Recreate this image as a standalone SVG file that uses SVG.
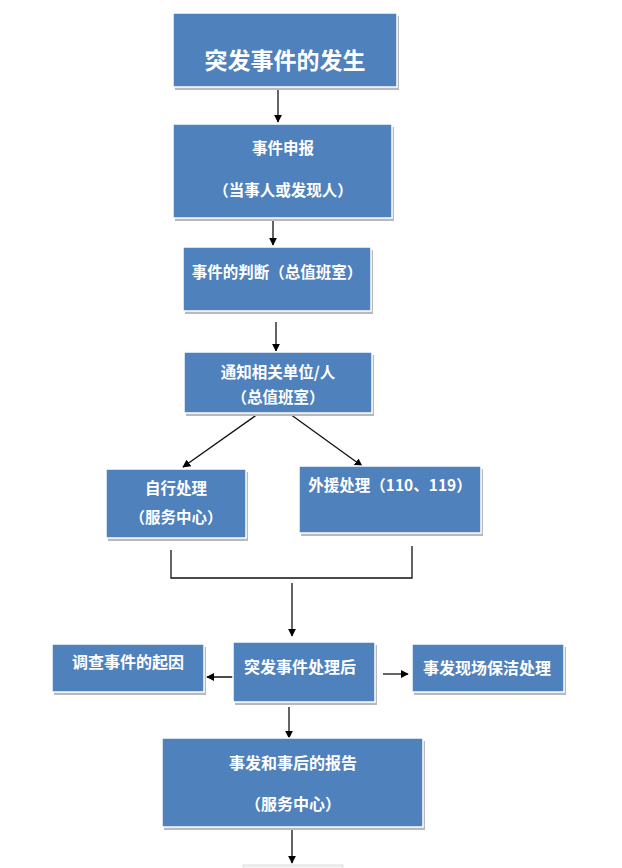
<svg xmlns="http://www.w3.org/2000/svg" width="622" height="868" viewBox="0 0 622 868">
<defs>
<style>
.sh{fill:#b9b9b9}
.bx{fill:#4F81BD;stroke:#ffffff;stroke-width:1.5}
.t{font-family:"Noto Sans CJK SC","Noto Sans",sans-serif;font-weight:bold;fill:#ffffff;text-anchor:middle;font-size:15.5px}
.ln{stroke:#111;stroke-width:1.3;fill:none}
</style>
<marker id="ah" viewBox="0 0 10 10" refX="9" refY="5" markerWidth="8" markerHeight="8" markerUnits="userSpaceOnUse" orient="auto">
<path d="M0,0 L10,5 L0,10 z" fill="#000"/>
</marker>
</defs>
<rect width="622" height="868" fill="#ffffff"/>
<g id="connectors">
<line class="ln" x1="278" y1="88" x2="278" y2="122" marker-end="url(#ah)"/>
<line class="ln" x1="273" y1="204" x2="273" y2="245" marker-end="url(#ah)"/>
<line class="ln" x1="276" y1="322" x2="276" y2="351" marker-end="url(#ah)"/>
<line class="ln" x1="258" y1="414" x2="183" y2="467" marker-end="url(#ah)"/>
<line class="ln" x1="290" y1="414" x2="362" y2="466" marker-end="url(#ah)"/>
<path class="ln" d="M171 550 V578 H412 V546"/>
<line class="ln" x1="292" y1="583" x2="292" y2="636" stroke="#444" marker-end="url(#ah)"/>
<line class="ln" x1="242" y1="677" x2="207" y2="677" marker-end="url(#ah)"/>
<line class="ln" x1="383" y1="674" x2="408" y2="674" marker-end="url(#ah)"/>
<line class="ln" x1="289" y1="707" x2="289" y2="738" marker-end="url(#ah)"/>
<line class="ln" x1="292" y1="830" x2="292" y2="863" marker-end="url(#ah)"/>
</g>
<g id="n1">
<rect class="sh" x="175" y="16" width="224" height="74"/>
<rect class="bx" x="173" y="13" width="224" height="74"/>
<text class="t" x="285" y="69" style="font-size:23px">突发事件的发生</text>
</g>
<g id="n2">
<rect class="sh" x="175" y="127" width="219" height="94"/>
<rect class="bx" x="173" y="124" width="219" height="94"/>
<text class="t" x="283" y="154">事件申报</text>
<text class="t" x="283" y="196">（当事人或发现人）</text>
</g>
<g id="n3">
<rect class="sh" x="185" y="250" width="188" height="64"/>
<rect class="bx" x="183" y="247" width="188" height="64"/>
<text class="t" x="277" y="278">事件的判断（总值班室）</text>
</g>
<g id="n4">
<rect class="sh" x="186" y="355" width="188" height="61"/>
<rect class="bx" x="184" y="352" width="188" height="61"/>
<text class="t" x="278" y="378">通知相关单位/人</text>
<text class="t" x="278" y="403">（总值班室）</text>
</g>
<g id="n5">
<rect class="sh" x="108" y="472" width="140" height="69"/>
<rect class="bx" x="106" y="469" width="140" height="69"/>
<text class="t" x="176" y="494">自行处理</text>
<text class="t" x="176" y="523">（服务中心）</text>
</g>
<g id="n6">
<rect class="sh" x="301" y="469" width="182" height="67"/>
<rect class="bx" x="299" y="466" width="182" height="67"/>
<text class="t" x="390" y="491">外援处理（110、119）</text>
</g>
<g id="n7">
<rect class="sh" x="54" y="647" width="152" height="48"/>
<rect class="bx" x="52" y="644" width="152" height="48"/>
<text class="t" x="128" y="668" style="font-size:16px">调查事件的起因</text>
</g>
<g id="n8">
<rect class="sh" x="235" y="645" width="142" height="60"/>
<rect class="bx" x="233" y="642" width="142" height="60"/>
<text class="t" x="300" y="673" style="font-size:16px">突发事件处理后</text>
</g>
<g id="n9">
<rect class="sh" x="414" y="647" width="152" height="48"/>
<rect class="bx" x="412" y="644" width="152" height="48"/>
<text class="t" x="487" y="674" style="font-size:16px">事发现场保洁处理</text>
</g>
<g id="n10">
<rect class="sh" x="164" y="741" width="261" height="89"/>
<rect class="bx" x="162" y="738" width="261" height="89"/>
<text class="t" x="293" y="769" style="font-size:16px">事发和事后的报告</text>
<text class="t" x="293" y="810" style="font-size:16px">（服务中心）</text>
</g>
<g id="n11">
<rect x="243" y="865" width="100" height="10" fill="#f2f2f2" stroke="#dddddd"/>
</g>
</svg>
